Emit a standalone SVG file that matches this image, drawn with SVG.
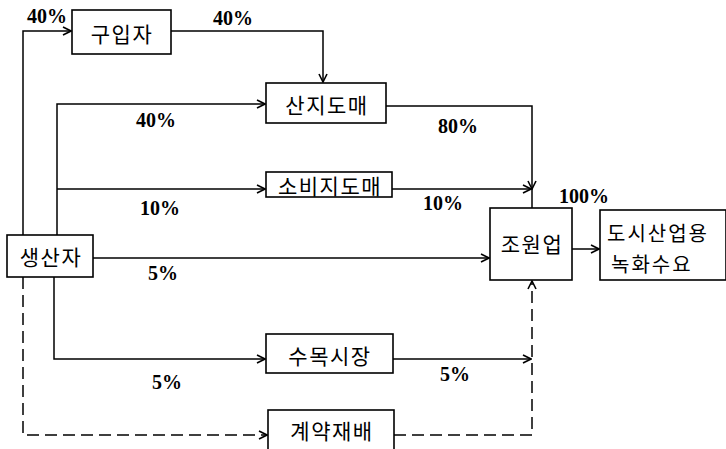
<svg xmlns="http://www.w3.org/2000/svg" width="726" height="449" viewBox="0 0 726 449">
<defs>
<marker id="arr" markerUnits="userSpaceOnUse" markerWidth="12" markerHeight="12" viewBox="0 0 12 12" refX="11" refY="6" orient="auto">
<path d="M3,2 L11,6 L3,10" fill="none" stroke="#000" stroke-width="1.6"/>
</marker>
</defs>
<style>
.box{fill:#fff;stroke:#000;stroke-width:1.6}
.lbl{font-family:"Noto Sans CJK KR","Noto Sans",sans-serif;font-size:21px;letter-spacing:1.5px;fill:#000}
.sm{font-size:20px;letter-spacing:2px}
.pct{font-family:"Liberation Serif","Times New Roman",serif;font-size:20px;font-weight:bold;fill:#000}
.ln{fill:none;stroke:#000;stroke-width:1.5}
.dash{stroke-dasharray:12 6}
</style>
<rect width="726" height="449" fill="#fff"/>
<g id="connectors">
<path class="ln" d="M23,235 V31 H71" marker-end="url(#arr)"/>
<path class="ln" d="M171,31 H323 V82" marker-end="url(#arr)"/>
<path class="ln" d="M57,235 V104 H265" marker-end="url(#arr)"/>
<path class="ln" d="M57,189 H265" marker-end="url(#arr)"/>
<path class="ln" d="M386,106 H532 V189" marker-end="url(#arr)"/>
<path class="ln" d="M392,189 H531" marker-end="url(#arr)"/>
<path class="ln" d="M532,189 V208"/>
<path class="ln" d="M93,258 H489" marker-end="url(#arr)"/>
<path class="ln" d="M572,249 H599" marker-end="url(#arr)"/>
<path class="ln" d="M54,277 V359 H265" marker-end="url(#arr)"/>
<path class="ln" d="M393,359 H531" marker-end="url(#arr)"/>
<path class="ln dash" d="M23,277 V435 H267" marker-end="url(#arr)"/>
<path class="ln dash" d="M394,435 H532 V281" marker-end="url(#arr)"/>
</g>
<g id="labels">
<text class="pct" x="27" y="23">40%</text>
<text class="pct" x="213" y="25">40%</text>
<text class="pct" x="136" y="127">40%</text>
<text class="pct" x="438" y="133">80%</text>
<text class="pct" x="140" y="215">10%</text>
<text class="pct" x="423" y="210">10%</text>
<text class="pct" x="559" y="203">100%</text>
<text class="pct" x="148" y="280">5%</text>
<text class="pct" x="152" y="389">5%</text>
<text class="pct" x="440" y="381">5%</text>
</g>
<g id="n-gu">
<rect class="box" x="72" y="10" width="99" height="44"/>
<text class="lbl" x="122" y="42" text-anchor="middle">구입자</text>
</g>
<g id="n-sanji">
<rect class="box" x="266" y="83" width="120" height="40"/>
<text class="lbl" x="327" y="113" text-anchor="middle">산지도매</text>
</g>
<g id="n-sobi">
<rect class="box" x="266" y="172" width="126" height="25"/>
<text class="lbl" x="330" y="194" text-anchor="middle">소비지도매</text>
</g>
<g id="n-saeng">
<rect class="box" x="7" y="235" width="86" height="42"/>
<text class="lbl" x="51" y="265" text-anchor="middle">생산자</text>
</g>
<g id="n-jowon">
<rect class="box" x="490" y="208" width="82" height="72"/>
<text class="lbl" x="532" y="252" text-anchor="middle">조원업</text>
</g>
<g id="n-dosi">
<rect class="box" x="600" y="210" width="126" height="70"/>
<text class="lbl sm" x="607" y="241">도시산업용</text>
<text class="lbl sm" x="611" y="272">녹화수요</text>
</g>
<g id="n-sumok">
<rect class="box" x="266" y="334" width="127" height="39"/>
<text class="lbl" x="330" y="364" text-anchor="middle">수목시장</text>
</g>
<g id="n-gyeyak">
<rect class="box" x="268" y="410" width="126" height="45"/>
<text class="lbl" x="332" y="439" text-anchor="middle">계약재배</text>
</g>
</svg>
